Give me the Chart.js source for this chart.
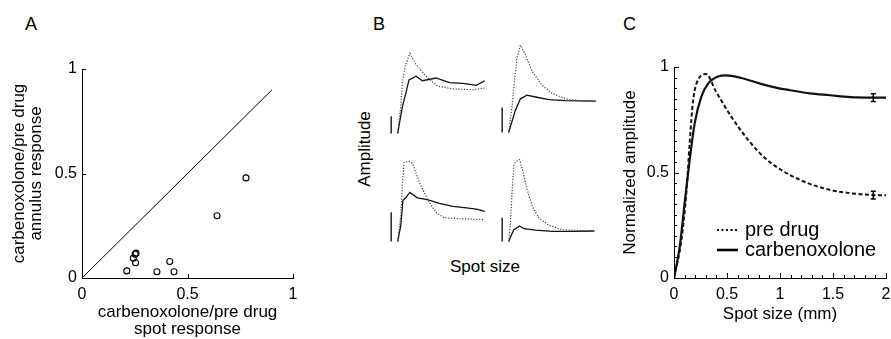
<!DOCTYPE html>
<html>
<head>
<meta charset="utf-8">
<script src="https://cdn.jsdelivr.net/npm/chart.js@4.4.0/dist/chart.umd.min.js"></script>
<style>
  body { margin: 0; background: #fff; }
  #fig { position: relative; width: 891px; height: 339px; overflow: hidden; background: #fff;
         font-family: "Liberation Sans", Arial, Helvetica, sans-serif; color: #000; }
  #fig canvas { position: absolute; }
  .letter { position: absolute; font-size: 18px; line-height: 18px; }
  .lbl { position: absolute; font-size: 17px; line-height: 17px; white-space: nowrap; transform: translate(-50%, -50%); }
  .lbl.rot { transform: translate(-50%, -50%) rotate(-90deg); }
</style>
</head>
<body>
<div id="fig">
  <div class="letter" style="left:25px;top:15px">A</div>
  <div class="letter" style="left:373px;top:15px">B</div>
  <div class="letter" style="left:623px;top:15px">C</div>
  <div class="lbl rot" style="left:364px;top:149px">Amplitude</div>
  <div class="lbl" style="left:485px;top:266px">Spot size</div>
  <canvas id="chartA" width="300" height="339" style="left:0;top:0"></canvas>
  <canvas id="b1" width="100" height="100" style="left:389px;top:38px"></canvas>
  <canvas id="b2" width="100" height="100" style="left:500px;top:37px"></canvas>
  <canvas id="b3" width="100" height="100" style="left:389px;top:146px"></canvas>
  <canvas id="b4" width="100" height="100" style="left:500px;top:146px"></canvas>
  <canvas id="chartC" width="281" height="339" style="left:610px;top:0"></canvas>
</div>
<script>
Chart.defaults.font.family = '"Liberation Sans", Arial, Helvetica, sans-serif';
Chart.defaults.color = '#000';
Chart.defaults.animation = false;

// ---- A: carbenoxolone / pre drug ratios ----
const spotRatio    = [0.256, 0.252, 0.243, 0.254, 0.212, 0.355, 0.416, 0.436, 0.640, 0.777];
const annulusRatio = [0.119, 0.114, 0.095, 0.073, 0.034, 0.030, 0.079, 0.030, 0.298, 0.479];
const unityX = [0, 0.9];
const unityY = [0, 0.9];
const ticksA = [0, 0.5, 1];

// ---- B: four example cells (relative amplitude vs spot size) ----
const b1PreX  = [0, 0.07, 0.11, 0.17, 0.28, 0.42, 0.65, 0.92, 1.27, 1.74, 2.0];
const b1PreY  = [0, 0.30, 0.56, 0.74, 0.88, 0.76, 0.63, 0.52, 0.49, 0.48, 0.50];
const b1CarbX = [0, 0.11, 0.19, 0.26, 0.42, 0.57, 0.88, 1.19, 1.50, 1.81, 2.0];
const b1CarbY = [0, 0.30, 0.45, 0.59, 0.63, 0.58, 0.61, 0.56, 0.55, 0.53, 0.58];

const b2PreX  = [0, 0.08, 0.14, 0.19, 0.27, 0.39, 0.54, 0.77, 1.0, 1.31, 1.62, 2.0];
const b2PreY  = [0, 0.30, 0.59, 0.82, 0.96, 0.85, 0.67, 0.52, 0.43, 0.37, 0.35, 0.345];
const b2CarbX = [0, 0.15, 0.27, 0.42, 0.62, 0.92, 1.31, 2.0];
const b2CarbY = [0, 0.24, 0.37, 0.41, 0.39, 0.36, 0.35, 0.345];

const b3PreX  = [0, 0.07, 0.11, 0.15, 0.26, 0.34, 0.5, 0.69, 0.88, 1.07, 1.42, 2.0];
const b3PreY  = [0, 0.28, 0.65, 0.87, 0.88, 0.86, 0.65, 0.46, 0.32, 0.26, 0.25, 0.24];
const b3CarbX = [0, 0.07, 0.12, 0.18, 0.28, 0.45, 0.68, 0.96, 1.27, 1.58, 1.81, 2.0];
const b3CarbY = [0, 0.17, 0.45, 0.48, 0.54, 0.48, 0.46, 0.42, 0.385, 0.37, 0.355, 0.33];

const b4PreX  = [0, 0.04, 0.08, 0.12, 0.17, 0.25, 0.31, 0.42, 0.54, 0.69, 0.92, 1.23, 1.62, 1.97];
const b4PreY  = [0, 0.20, 0.57, 0.84, 0.88, 0.90, 0.80, 0.58, 0.39, 0.26, 0.18, 0.13, 0.12, 0.12];
const b4CarbX = [0, 0.08, 0.12, 0.25, 0.35, 0.62, 1.0, 1.46, 1.97];
const b4CarbY = [0, 0.09, 0.13, 0.17, 0.14, 0.125, 0.11, 0.11, 0.115];

const scaleBarX = -0.15;
const scaleBarH = [0.19, 0.275, 0.32, 0.26];

// ---- C: population average ----
const preX  = [0, 0.07, 0.116, 0.148, 0.18, 0.24, 0.30, 0.40, 0.54, 0.70, 0.855, 0.98, 1.094, 1.28, 1.47, 1.66, 1.88, 2.0];
const preY  = [0, 0.18, 0.40, 0.64, 0.84, 0.95, 0.967, 0.88, 0.765, 0.654, 0.57, 0.522, 0.488, 0.446, 0.418, 0.402, 0.393, 0.392];
const carbX = [0, 0.054, 0.10, 0.148, 0.195, 0.258, 0.32, 0.415, 0.49, 0.635, 0.82, 0.98, 1.094, 1.28, 1.47, 1.66, 1.88, 2.0];
const carbY = [0, 0.148, 0.354, 0.56, 0.733, 0.86, 0.92, 0.955, 0.96, 0.948, 0.92, 0.90, 0.89, 0.875, 0.866, 0.857, 0.855, 0.855];
const errX    = [1.88, 1.88];
const errMean = [0.855, 0.393];
const errHalf = [0.018, 0.018];
const labelsC = [0, 0.5, 1, 1.5, 2];

const pts = (xs, ys) => xs.map((x, i) => ({ x, y: ys[i] }));
const near = (list, v) => list.some(m => Math.abs(m - v) < 1e-6);

// inward tick marks on the bottom and left axes
const inTicks = {
  id: 'inTicks',
  afterDraw(chart, args, opts) {
    const { ctx, chartArea: a, scales } = chart;
    ctx.save();
    ctx.strokeStyle = '#000';
    ctx.lineWidth = 1;
    scales.x.ticks.forEach(t => {
      const len = near(opts.major, t.value) ? opts.majorLen : opts.minorLen;
      const px = Math.round(scales.x.getPixelForValue(t.value)) + 0.5;
      ctx.beginPath(); ctx.moveTo(px, a.bottom); ctx.lineTo(px, a.bottom - len); ctx.stroke();
    });
    scales.y.ticks.forEach(t => {
      const len = near(opts.major, t.value) ? opts.majorLen : opts.minorLen;
      const py = Math.round(scales.y.getPixelForValue(t.value)) + 0.5;
      ctx.beginPath(); ctx.moveTo(a.left, py); ctx.lineTo(a.left + len, py); ctx.stroke();
    });
    ctx.restore();
  }
};

const errBars = {
  id: 'errBars',
  afterDatasetsDraw(chart) {
    const { ctx, scales: { x, y } } = chart;
    ctx.save();
    ctx.strokeStyle = '#000';
    ctx.lineWidth = 1.5;
    errX.forEach((xv, i) => {
      const px = x.getPixelForValue(xv);
      const top = y.getPixelForValue(errMean[i] + errHalf[i]);
      const bot = y.getPixelForValue(errMean[i] - errHalf[i]);
      ctx.beginPath();
      ctx.moveTo(px, top); ctx.lineTo(px, bot);
      ctx.moveTo(px - 2.5, top); ctx.lineTo(px + 2.5, top);
      ctx.moveTo(px - 2.5, bot); ctx.lineTo(px + 2.5, bot);
      ctx.stroke();
    });
    ctx.restore();
  }
};

const boxLegend = {
  id: 'boxLegend',
  afterDraw(chart, args, opts) {
    const { ctx, chartArea: a } = chart;
    ctx.save();
    ctx.font = '20px "Liberation Sans", Arial, sans-serif';
    ctx.textBaseline = 'middle';
    ctx.fillStyle = '#000';
    ctx.strokeStyle = '#000';
    chart.data.datasets.forEach((ds, i) => {
      const item = opts.items[i];
      const y = a.top + opts.top + i * opts.rowH;
      const x0 = a.left + opts.left;
      ctx.lineWidth = item.width;
      ctx.setLineDash(item.dash);
      ctx.beginPath(); ctx.moveTo(x0, y); ctx.lineTo(x0 + opts.sample, y); ctx.stroke();
      ctx.setLineDash([]);
      ctx.fillText(ds.label, x0 + opts.sample + opts.gap, y);
    });
    ctx.restore();
  }
};

// -------- A ----------
new Chart(document.getElementById('chartA'), {
  type: 'scatter',
  data: {
    datasets: [
      { data: pts(spotRatio, annulusRatio), pointRadius: 3, pointBorderWidth: 1.1,
        pointBorderColor: '#000', pointBackgroundColor: 'rgba(0,0,0,0)' },
      { data: pts(unityX, unityY), showLine: true, pointRadius: 0, borderColor: '#000', borderWidth: 1 }
    ]
  },
  options: {
    responsive: false,
    layout: { padding: { top: 69, right: 7, left: 0, bottom: 0 } },
    plugins: { legend: { display: false }, tooltip: { enabled: false },
      inTicks: { major: ticksA, majorLen: 4, minorLen: 4 } },
    scales: {
      x: {
        min: 0, max: 1,
        afterBuildTicks: s => { s.ticks = ticksA.map(v => ({ value: v })); },
        afterFit: s => { s.height = 61; },
        grid: { display: false, drawTicks: false },
        border: { color: '#000', width: 1 },
        ticks: { padding: 0, maxRotation: 0, font: { size: 16, lineHeight: 2.1 }, callback: v => String(v) },
        title: { display: true, text: ['carbenoxolone/pre drug', 'spot response'],
          font: { size: 17, lineHeight: 1 }, padding: { top: 0, bottom: 1 } }
      },
      y: {
        min: 0, max: 1,
        afterBuildTicks: s => { s.ticks = ticksA.map(v => ({ value: v })); },
        afterFit: s => { s.width = 82; },
        grid: { display: false, drawTicks: false },
        border: { color: '#000', width: 1 },
        ticks: { padding: 5, font: { size: 16 }, callback: v => String(v) },
        title: { display: true, text: ['carbenoxolone/pre drug', 'annulus response'],
          font: { size: 17, lineHeight: 1 }, padding: { top: 11, bottom: 0 } }
      }
    }
  },
  plugins: [inTicks]
});

// -------- B ----------
function makeB(id, preXs, preYs, carbXs, carbYs, barH) {
  new Chart(document.getElementById(id), {
    type: 'scatter',
    data: {
      datasets: [
        { data: pts(preXs, preYs), showLine: true, pointRadius: 0, clip: false,
          borderColor: '#444', borderWidth: 1.2, borderDash: [1.2, 1.6] },
        { data: pts(carbXs, carbYs), showLine: true, pointRadius: 0, clip: false,
          borderColor: '#111', borderWidth: 1.3 },
        { data: [{ x: scaleBarX, y: 0 }, { x: scaleBarX, y: barH }], showLine: true, pointRadius: 0,
          clip: false, borderColor: '#000', borderWidth: 1.3 }
      ]
    },
    options: {
      responsive: false,
      layout: { padding: 0 },
      plugins: { legend: { display: false }, tooltip: { enabled: false } },
      scales: {
        x: { display: false, min: -0.2, max: 2.1 },
        y: { display: false, min: -0.05, max: 1.05 }
      }
    }
  });
}
makeB('b1', b1PreX, b1PreY, b1CarbX, b1CarbY, scaleBarH[0]);
makeB('b2', b2PreX, b2PreY, b2CarbX, b2CarbY, scaleBarH[1]);
makeB('b3', b3PreX, b3PreY, b3CarbX, b3CarbY, scaleBarH[2]);
makeB('b4', b4PreX, b4PreY, b4CarbX, b4CarbY, scaleBarH[3]);

// -------- C ----------
new Chart(document.getElementById('chartC'), {
  type: 'scatter',
  data: {
    datasets: [
      { label: 'pre drug', data: pts(preX, preY), showLine: true, pointRadius: 0,
        cubicInterpolationMode: 'monotone', borderColor: '#111', borderWidth: 2, borderDash: [4, 2.5] },
      { label: 'carbenoxolone', data: pts(carbX, carbY), showLine: true, pointRadius: 0,
        cubicInterpolationMode: 'monotone', borderColor: '#111', borderWidth: 2.2 }
    ]
  },
  options: {
    responsive: false,
    layout: { padding: { top: 67, right: 5, left: 0, bottom: 0 } },
    plugins: {
      legend: { display: false }, tooltip: { enabled: false },
      inTicks: { major: labelsC, majorLen: 5, minorLen: 3 },
      boxLegend: { left: 43, top: 163, rowH: 20, sample: 21, gap: 7,
        items: [{ dash: [2, 2.5], width: 2 }, { dash: [], width: 2.6 }] }
    },
    scales: {
      x: {
        min: 0, max: 2,
        afterFit: s => { s.height = 61; },
        grid: { display: false, drawTicks: false },
        border: { color: '#000', width: 1 },
        ticks: { stepSize: 0.1, maxTicksLimit: 100, autoSkip: false, maxRotation: 0, padding: 0,
          font: { size: 16, lineHeight: 2.1 },
          callback: v => near(labelsC, v) ? String(Math.round(v * 10) / 10) : '' },
        title: { display: true, text: 'Spot size (mm)', font: { size: 17, lineHeight: 1 },
          padding: { top: 0, bottom: 16 } }
      },
      y: {
        min: 0, max: 1,
        afterFit: s => { s.width = 64; },
        grid: { display: false, drawTicks: false },
        border: { color: '#000', width: 1 },
        ticks: { stepSize: 0.05, maxTicksLimit: 100, autoSkip: false, padding: 5, font: { size: 16 },
          callback: v => near(labelsC, v) ? String(Math.round(v * 10) / 10) : '' },
        title: { display: true, text: 'Normalized amplitude', font: { size: 17, lineHeight: 1 },
          padding: { top: 12, bottom: 0 } }
      }
    }
  },
  plugins: [inTicks, errBars, boxLegend]
});
</script>
</body>
</html>
